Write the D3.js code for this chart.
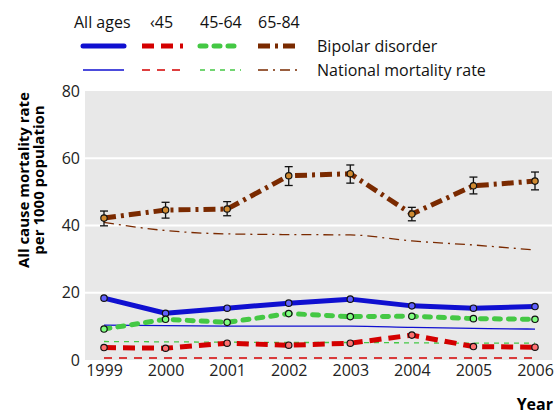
<!DOCTYPE html>
<html>
<head>
<meta charset="utf-8">
<script src="https://cdn.jsdelivr.net/npm/d3@7"></script>
<style>
  body { margin: 0; background: #fff; }
  text { font-family: "Open Sans", "Noto Sans", sans-serif; }
</style>
</head>
<body>
<div id="chart"></div>
<script>
const years = [1999, 2000, 2001, 2002, 2003, 2004, 2005, 2006];
const groupLabels = ['All ages', '\u203945', '45-64', '65-84'];

const bipolarAll = [18.4, 13.9, 15.4, 16.9, 18.1, 16.1, 15.4, 15.9];
const bipolarU45 = [3.7, 3.5, 5.0, 4.4, 5.0, 7.4, 4.0, 3.8];
const bipolar4564 = [9.2, 12.1, 11.2, 13.8, 12.9, 13.0, 12.3, 12.1];
const bipolar6584 = [42.2, 44.6, 44.9, 54.8, 55.4, 43.4, 51.8, 53.2];
const ci6584Low = [39.9, 42.2, 42.9, 51.9, 52.6, 41.4, 49.4, 50.6];
const ci6584High = [44.3, 46.9, 47.1, 57.5, 58.0, 45.4, 54.4, 55.9];

const nationalAll = [10.4, 10.2, 10.1, 10.1, 10.1, 9.7, 9.4, 9.2];
const nationalU45 = [0.6, 0.6, 0.6, 0.6, 0.6, 0.6, 0.6, 0.6];
const national4564 = [5.5, 5.4, 5.3, 5.2, 5.2, 5.1, 5.0, 5.0];
const national6584 = [40.9, 38.5, 37.5, 37.3, 37.2, 35.4, 34.2, 32.7];

const yTicks = [0, 20, 40, 60, 80];

const colors = ['#1010d0', '#d40000', '#44c844', '#7a2a00'];
const fills = ['#6060ff', '#ff7070', '#80ff80', '#d08a30'];
const thickDash = [null, '12,7', '6,8', '12,5,3,5'];
const thinDash = [null, '8,7', '5,5', '10,5,2,5'];

const bipolar = [bipolarAll, bipolarU45, bipolar4564, bipolar6584];
const national = [nationalAll, nationalU45, national4564, national6584];

const W = 558, H = 416;
const svg = d3.select('#chart').append('svg')
  .attr('width', W)
  .attr('height', H);

const x = d3.scaleLinear().domain([1999, 2006]).range([104, 535]);
const y = d3.scaleLinear().domain([0, 80]).range([360, 91]);

// plot background
svg.append('rect')
  .attr('x', 85).attr('y', y(80))
  .attr('width', 552 - 85).attr('height', y(0) - y(80))
  .attr('fill', '#e8e8e8');

svg.append('g')
  .selectAll('line')
  .data(yTicks.filter(d => d > 0 && d < 80))
  .join('line')
  .attr('x1', 85).attr('x2', 552)
  .attr('y1', d => y(d)).attr('y2', d => y(d))
  .attr('stroke', '#fff').attr('stroke-width', 2);

// axes
const yAxis = svg.append('g')
  .attr('transform', 'translate(85,0)')
  .call(d3.axisLeft(y).tickValues(yTicks).tickSize(0).tickPadding(5));
yAxis.select('.domain').remove();
yAxis.selectAll('text').attr('font-size', 16).attr('fill', '#222');

const xAxis = svg.append('g')
  .attr('transform', `translate(0,${y(0)})`)
  .call(d3.axisBottom(x).tickValues(years).tickFormat(d3.format('d')).tickSize(0).tickPadding(5));
xAxis.select('.domain').remove();
xAxis.selectAll('text').attr('font-size', 16).attr('fill', '#222');

svg.append('text')
  .attr('transform', 'translate(29,180) rotate(-90)')
  .attr('text-anchor', 'middle')
  .attr('font-size', 15).attr('font-weight', 'bold')
  .text('All cause mortality rate');
svg.append('text')
  .attr('transform', 'translate(44,180) rotate(-90)')
  .attr('text-anchor', 'middle')
  .attr('font-size', 15).attr('font-weight', 'bold')
  .text('per 1000 population');

svg.append('text')
  .attr('x', 553).attr('y', 410)
  .attr('text-anchor', 'end')
  .attr('font-size', 16).attr('font-weight', 'bold')
  .text('Year');

const line = d3.line()
  .x((d, i) => x(years[i]))
  .y(d => y(d));

const smoothLine = d3.line()
  .x((d, i) => x(years[i]))
  .y(d => y(d))
  .curve(d3.curveMonotoneX);

// national rates
national.forEach((vals, g) => {
  svg.append('path')
    .datum(vals)
    .attr('fill', 'none')
    .attr('stroke', colors[g])
    .attr('stroke-width', 1.3)
    .attr('stroke-dasharray', thinDash[g])
    .attr('d', smoothLine);
});

// bipolar lines
bipolar.forEach((vals, g) => {
  svg.append('path')
    .datum(vals)
    .attr('fill', 'none')
    .attr('stroke', colors[g])
    .attr('stroke-width', 5)
    .attr('stroke-linecap', g === 2 ? 'round' : 'butt')
    .attr('stroke-linejoin', 'round')
    .attr('stroke-dasharray', thickDash[g])
    .attr('d', line);
});

// error bars for 65-84
const eb = svg.append('g').attr('stroke', '#111').attr('stroke-width', 1.3);
years.forEach((yr, i) => {
  eb.append('line')
    .attr('x1', x(yr)).attr('x2', x(yr))
    .attr('y1', y(ci6584Low[i])).attr('y2', y(ci6584High[i]));
  [ci6584Low[i], ci6584High[i]].forEach(v => {
    eb.append('line')
      .attr('x1', x(yr) - 4).attr('x2', x(yr) + 4)
      .attr('y1', y(v)).attr('y2', y(v));
  });
});

// markers
bipolar.forEach((vals, g) => {
  svg.append('g')
    .selectAll('circle')
    .data(vals)
    .join('circle')
    .attr('cx', (d, i) => x(years[i]))
    .attr('cy', d => y(d))
    .attr('r', 3.2)
    .attr('fill', fills[g])
    .attr('stroke', '#111')
    .attr('stroke-width', 1.2);
});

// legend
const legX = [83, 142, 200, 258];
const legW = 41;
const leg = svg.append('g');
leg.selectAll('text.hdr')
  .data(groupLabels)
  .join('text')
  .attr('class', 'hdr')
  .attr('x', (d, i) => i === 0 ? 74 : legX[i] + (i === 1 ? 8 : 0))
  .attr('y', 28)
  .attr('font-size', 16)
  .attr('fill', '#111')
  .text(d => d);

groupLabels.forEach((d, g) => {
  leg.append('line')
    .attr('x1', legX[g]).attr('x2', legX[g] + legW)
    .attr('y1', 46).attr('y2', 46)
    .attr('stroke', colors[g])
    .attr('stroke-width', 5)
    .attr('stroke-linecap', g === 2 || g === 0 ? 'round' : 'butt')
    .attr('stroke-dasharray', thickDash[g]);
  leg.append('line')
    .attr('x1', legX[g]).attr('x2', legX[g] + legW)
    .attr('y1', 70).attr('y2', 70)
    .attr('stroke', colors[g])
    .attr('stroke-width', 1.3)
    .attr('stroke-dasharray', thinDash[g]);
});

leg.append('text')
  .attr('x', 317).attr('y', 52)
  .attr('font-size', 16).attr('fill', '#111')
  .text('Bipolar disorder');
leg.append('text')
  .attr('x', 317).attr('y', 76)
  .attr('font-size', 16).attr('fill', '#111')
  .text('National mortality rate');
</script>
</body>
</html>
